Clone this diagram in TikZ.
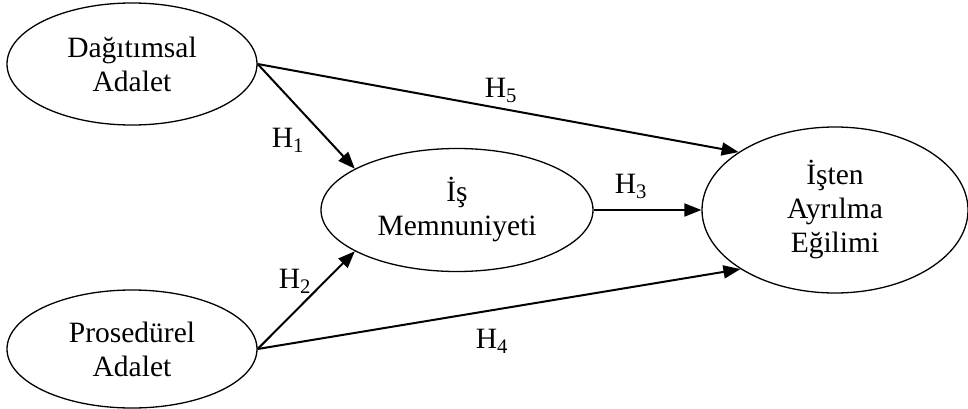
\documentclass[tikz,border=0pt]{standalone}
\usepackage{fontspec}
\setmainfont{Liberation Serif}
\usetikzlibrary{shapes.geometric,arrows.meta}
\begin{document}
\begin{tikzpicture}[x=1pt,y=-1pt,
  construct/.style={ellipse,draw,line width=1.3pt,inner sep=0pt,align=center,
    font=\fontsize{29.5}{34}\selectfont},
  path/.style={line width=2pt,-{Triangle[length=17pt,width=13pt]}},
  hyp/.style={inner sep=0pt,font=\fontsize{29.5}{32}\selectfont}]
\useasboundingbox (0,0) rectangle (968,409);
% latent constructs
\node[construct,minimum width=250pt,minimum height=122pt] (A) at (132,64) {Dağıtımsal\\Adalet};
\node[construct,minimum width=250pt,minimum height=118pt] (B) at (132,349) {Prosedürel\\Adalet};
\node[construct,minimum width=272pt,minimum height=123pt] (M) at (457,210) {İş\\Memnuniyeti};
\node[construct,minimum width=266pt,minimum height=166pt] (T) at (835,210) {İşten\\Ayrılma\\Eğilimi};
% hypothesised paths
\draw[path] (A.east) -- (M.158);
\draw[path] (B.east) -- (M.202);
\draw[path] (A.east) -- (T.149);
\draw[path] (B.east) -- (T.212);
\draw[path] (M.east) -- (T.west);
% path labels
\node[hyp] (h1) at (288,140) {H\textsubscript{1}};
\node[hyp] (h2) at (295,281) {H\textsubscript{2}};
\node[hyp] (h3) at (631,186) {H\textsubscript{3}};
\node[hyp] (h4) at (492,341) {H\textsubscript{4}};
\node[hyp] (h5) at (501,90) {H\textsubscript{5}};
\end{tikzpicture}
\end{document}
